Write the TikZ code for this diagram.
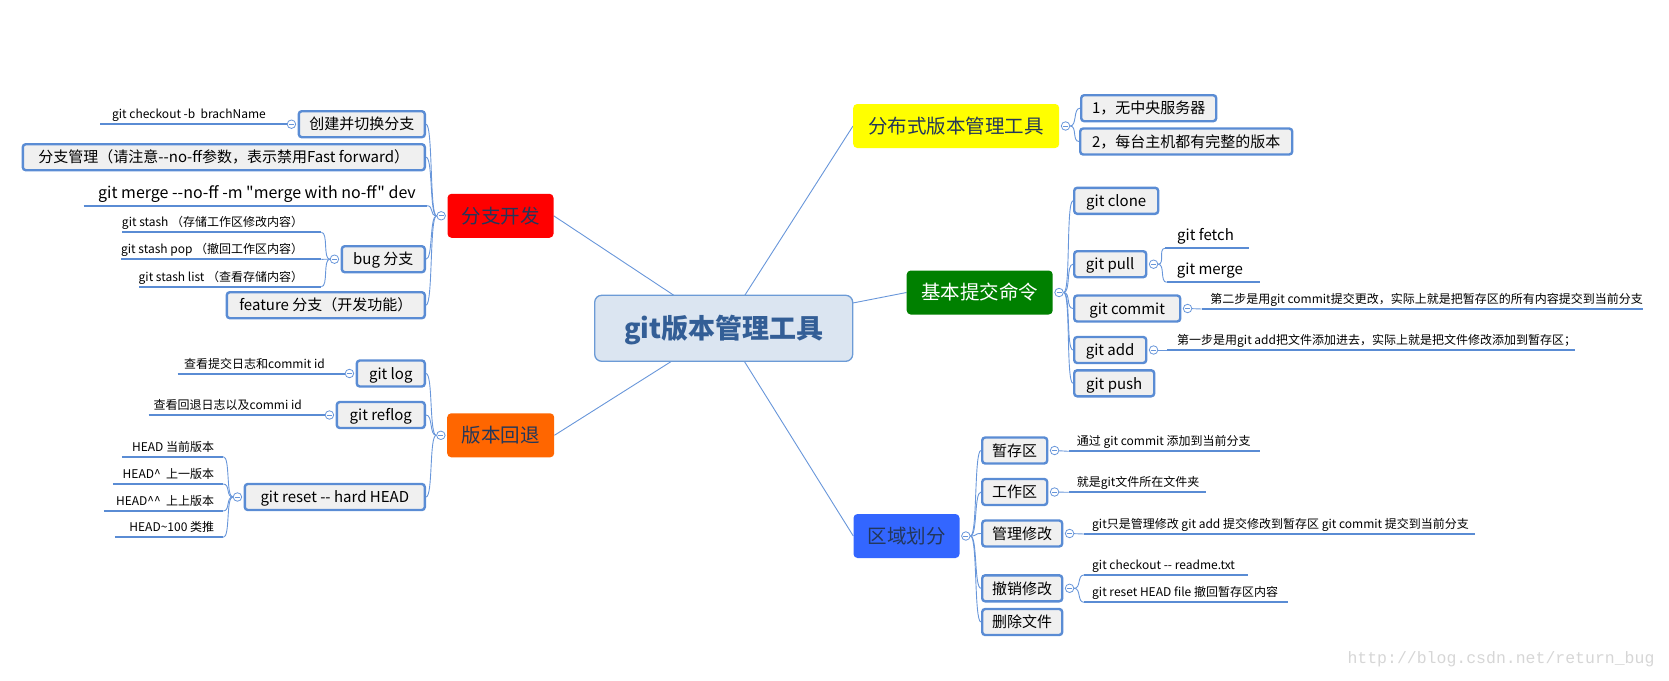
\documentclass[tikz,border=0pt]{standalone}
\usepackage{fontspec}
\setmainfont{Noto Sans CJK SC}[Ligatures=TeXOff]
\newfontfamily\wmfont{Liberation Mono}
\usetikzlibrary{positioning,backgrounds}

\definecolor{linkblue}{RGB}{104,150,218}
\definecolor{boxblue}{RGB}{90,140,212}
\definecolor{boxgray}{RGB}{240,240,240}
\definecolor{rootfill}{RGB}{219,229,241}
\definecolor{rootline}{RGB}{108,155,214}
\definecolor{roottext}{RGB}{51,94,150}
\definecolor{topictext}{RGB}{35,55,90}
\definecolor{fzred}{RGB}{255,0,0}
\definecolor{bborange}{RGB}{255,102,0}
\definecolor{fbsyellow}{RGB}{255,255,0}
\definecolor{jbgreen}{RGB}{0,128,0}
\definecolor{qyblue}{RGB}{51,102,255}
\definecolor{wmgray}{RGB}{214,214,214}

\newcommand{\fsroot}{\fontsize{27}{32}\selectfont\bfseries}
\newcommand{\fstopic}{\fontsize{19.5}{23}\selectfont}
\newcommand{\fssub}{\fontsize{15}{18}\selectfont}
\newcommand{\fsbig}{\fontsize{16}{19}\selectfont}
\newcommand{\fsleaf}{\fontsize{12}{14}\selectfont}
\newcommand{\leafl}[3]{\makebox[#1][r]{#3\hspace*{#2}}}
\newcommand{\leafr}[3]{\makebox[#1][l]{\hspace*{#2}#3}}

\tikzset{
  root/.style={draw=rootline, line width=1.3pt, fill=rootfill, rounded corners=7pt, text=roottext,
    font=\fsroot, minimum width=258pt, minimum height=66pt, text height=23.8pt, text depth=3.2pt},
  topic/.style={rounded corners=4pt, text=topictext, font=\fstopic, minimum height=44pt,
    text height=17.2pt, text depth=2.3pt, inner xsep=4pt},
  sub/.style={draw=boxblue, line width=2.4pt, fill=boxgray, rounded corners=3pt, font=\fssub,
    minimum height=26pt, text height=13.2pt, text depth=1.8pt, inner xsep=4pt, inner ysep=0pt},
  knob/.style={circle, draw=linkblue, fill=white, line width=0.8pt, minimum size=8.5pt, inner sep=0pt,
    path picture={\draw[linkblue, line width=0.7pt] ([xshift=1.8pt]path picture bounding box.west)
      -- ([xshift=-1.8pt]path picture bounding box.east);}},
  link/.style={draw=linkblue, line width=0.9pt},
  fanL/.style={link, out=180, in=0, distance=7pt},
  fanR/.style={link, out=0, in=180, distance=7pt},
  leafL/.style={anchor=south east, font=\fsleaf, inner xsep=0pt, inner ysep=2.4pt, text height=10pt, text depth=3pt},
  leafR/.style={leafL, anchor=south west},
  leafline/.style={draw=boxblue, line width=2.2pt},
}

\begin{document}
\begin{tikzpicture}[x=1pt,y=-1pt]
  \useasboundingbox (0,0) rectangle (1669,680);

  \node[root] (git) at (723.7,328.3) {git版本管理工具};

  \node[topic, fill=fzred,     minimum width=106pt] (fz)  at (500.5,215.8) {分支开发};
  \node[topic, fill=bborange,  minimum width=107pt] (bb)  at (500.7,435.3) {版本回退};
  \node[topic, fill=fbsyellow, minimum width=206pt] (fbs) at (956.2,126)   {分布式版本管理工具};
  \node[topic, fill=jbgreen, text=white, minimum width=146pt] (jb) at (979.7,292.5) {基本提交命令};
  \node[topic, fill=qyblue,    minimum width=106pt] (qy)  at (906.5,536)   {区域划分};

  \node[knob, left=1.5pt of fz]   (kfz)  {};
  \node[knob, left=1.5pt of bb]   (kbb)  {};
  \node[knob, right=1.5pt of fbs] (kfbs) {};
  \node[knob, right=1.5pt of jb]  (kjb)  {};
  \node[knob, right=1.5pt of qy]  (kqy)  {};

  % 分支开发
  \node[sub, anchor=east, minimum width=126pt] (cjfz) at (426,124.2) {创建并切换分支};
  \node[sub, anchor=east, minimum width=402pt] (fzgl) at (426,157.2) {分支管理（请注意--no-ff参数，表示禁用Fast forward）};
  \node[leafL, font=\fsbig, text depth=5pt] (mg) at (427,205.7) {\leafl{343pt}{11pt}{git merge --no-ff -m "merge with no-ff" dev}};
  \node[sub, anchor=east, minimum width=83pt]  (bug)  at (426,259.2) {bug 分支};
  \node[sub, anchor=east, minimum width=198pt] (feat) at (426,305.2) {feature 分支（开发功能）};
  \node[knob, left=1.5pt of cjfz] (kcj)  {};
  \node[knob, left=1.5pt of bug]  (kbug) {};
  \node[leafL] (co)  at (287.5,124.3) {\leafl{187pt}{21.5pt}{git checkout -b\ \ brachName}};
  \node[leafL] (st1) at (321.4,232.3) {\leafl{199pt}{18pt}{git stash （存储工作区修改内容）}};
  \node[leafL] (st2) at (321.4,259.3) {\leafl{200pt}{18pt}{git stash pop （撤回工作区内容）}};
  \node[leafL] (st3) at (321.4,286.7) {\leafl{182pt}{18pt}{git stash list （查看存储内容）}};

  % 版本回退
  \node[sub, anchor=east, minimum width=68pt]  (glog)   at (426,373.5) {git log};
  \node[sub, anchor=east, minimum width=88pt]  (gref)   at (426,415)   {git reflog};
  \node[sub, anchor=east, minimum width=180pt] (greset) at (426,497)   {git reset -- hard HEAD};
  \node[knob, left=1.5pt of glog]   (klog) {};
  \node[knob, left=1.5pt of gref]   (kref) {};
  \node[knob, left=1.5pt of greset] (krs)  {};
  \node[leafL] (lgt) at (345,373.7) {\leafl{167pt}{20pt}{查看提交日志和commit id}};
  \node[leafL] (rlt) at (325,415.3) {\leafl{176pt}{23pt}{查看回退日志以及commi id}};
  \node[leafL] (h1) at (223.3,456.7) {\leafl{101pt}{9pt}{HEAD 当前版本}};
  \node[leafL] (h2) at (223.3,484)   {\leafl{110pt}{9pt}{HEAD\textasciicircum\ \ 上一版本}};
  \node[leafL] (h3) at (223.3,511)   {\leafl{119pt}{9pt}{HEAD\textasciicircum\textasciicircum\ \ 上上版本}};
  \node[leafL] (h4) at (223.3,537.3) {\leafl{108pt}{9pt}{HEAD\textasciitilde100 类推}};

  % 分布式版本管理工具
  \node[sub, anchor=west, minimum width=135pt] (f1) at (1080,108.2) {1，无中央服务器};
  \node[sub, anchor=west, minimum width=212pt] (f2) at (1079,141.5) {2，每台主机都有完整的版本};

  % 基本提交命令
  \node[sub, anchor=west, minimum width=84pt]  (clone)  at (1073,200.8) {git clone};
  \node[sub, anchor=west, minimum width=72pt]  (pull)   at (1073,264.2) {git pull};
  \node[sub, anchor=west, minimum width=106pt] (commit) at (1073,308.5) {git commit};
  \node[sub, anchor=west, minimum width=72pt]  (add)    at (1073,350)   {git add};
  \node[sub, anchor=west, minimum width=80pt]  (push)   at (1073,383.3) {git push};
  \node[knob, right=1.5pt of pull]   (kpull) {};
  \node[knob, right=1.5pt of commit] (kcm)   {};
  \node[knob, right=1.5pt of add]    (kadd)  {};
  \node[leafR, font=\fssub, text depth=5pt] (fetch)  at (1165,248.3)   {\leafr{84pt}{12pt}{git fetch}};
  \node[leafR, font=\fssub, text depth=5pt] (gmerge) at (1166.7,282.3) {\leafr{93pt}{10pt}{git merge}};
  \node[leafR] (cmt) at (1201.6,309) {\leafr{441pt}{8.5pt}{第二步是用git commit提交更改，实际上就是把暂存区的所有内容提交到当前分支}};
  \node[leafR] (ad)  at (1167,350)   {\leafr{408pt}{10pt}{第一步是用git add把文件添加进去，实际上就是把文件修改添加到暂存区；}};

  % 区域划分
  \node[sub, anchor=west, minimum width=65pt] (zc) at (981,450.5) {暂存区};
  \node[sub, anchor=west, minimum width=65pt] (gz) at (981,492)   {工作区};
  \node[sub, anchor=west, minimum width=80pt] (gl) at (981,533.5) {管理修改};
  \node[sub, anchor=west, minimum width=80pt] (cx) at (981,588.3) {撤销修改};
  \node[sub, anchor=west, minimum width=80pt] (sc) at (981,622)   {删除文件};
  \node[knob, right=1.5pt of zc] (kzc) {};
  \node[knob, right=1.5pt of gz] (kgz) {};
  \node[knob, right=1.5pt of gl] (kgl) {};
  \node[knob, right=1.5pt of cx] (kcx) {};
  \node[leafR] (zct) at (1068.6,451.3) {\leafr{191pt}{8pt}{通过 git commit 添加到当前分支}};
  \node[leafR] (gzt) at (1068.6,492.3) {\leafr{137.4pt}{8pt}{就是git文件所在文件夹}};
  \node[leafR] (glt) at (1084,534)     {\leafr{391pt}{8pt}{git只是管理修改 git add 提交修改到暂存区 git commit 提交到当前分支}};
  \node[leafR] (cx1) at (1084,575)     {\leafr{164pt}{8pt}{git checkout -- readme.txt}};
  \node[leafR] (cx2) at (1084,602.3)   {\leafr{204pt}{8pt}{git reset HEAD file 撤回暂存区内容}};

  \node[font=\wmfont\fontsize{16.5}{18}\selectfont, text=wmgray, anchor=east] (wm) at (1658,659) {http://blog.csdn.net/return\_bug};

  \begin{scope}[on background layer]
    \foreach \t in {fz,bb} \draw[link] (git.center) -- (\t.east);
    \foreach \t in {fbs,jb,qy} \draw[link] (git.center) -- (\t.west);

    \foreach \n in {mg,co,st1,st2,st3,lgt,rlt,h1,h2,h3,h4,fetch,gmerge,cmt,ad,zct,gzt,glt,cx1,cx2}
      \draw[leafline] (\n.south west) -- (\n.south east);

    \foreach \c in {cjfz,fzgl,bug,feat} \draw[fanL] (kfz) to (\c.east);
    \draw[fanL] (kfz) to (mg.south east);
    \draw[link] (kcj) -- (co.south east);
    \foreach \c in {st1,st2,st3} \draw[fanL] (kbug) to (\c.south east);

    \foreach \c in {glog,gref,greset} \draw[fanL] (kbb) to (\c.east);
    \draw[link] (klog) -- (lgt.south east);
    \draw[link] (kref) -- (rlt.south east);
    \foreach \c in {h1,h2,h3,h4} \draw[fanL] (krs) to (\c.south east);

    \foreach \c in {f1,f2} \draw[fanR] (kfbs) to (\c.west);
    \foreach \c in {clone,pull,commit,add,push} \draw[fanR] (kjb) to (\c.west);
    \foreach \c in {fetch,gmerge} \draw[fanR] (kpull) to (\c.south west);
    \draw[link] (kcm) -- (cmt.south west);
    \draw[link] (kadd) -- (ad.south west);

    \foreach \c in {zc,gz,gl,cx,sc} \draw[fanR] (kqy) to (\c.west);
    \draw[link] (kzc) -- (zct.south west);
    \draw[link] (kgz) -- (gzt.south west);
    \draw[link] (kgl) -- (glt.south west);
    \foreach \c in {cx1,cx2} \draw[fanR] (kcx) to (\c.south west);
  \end{scope}
\end{tikzpicture}
\end{document}
